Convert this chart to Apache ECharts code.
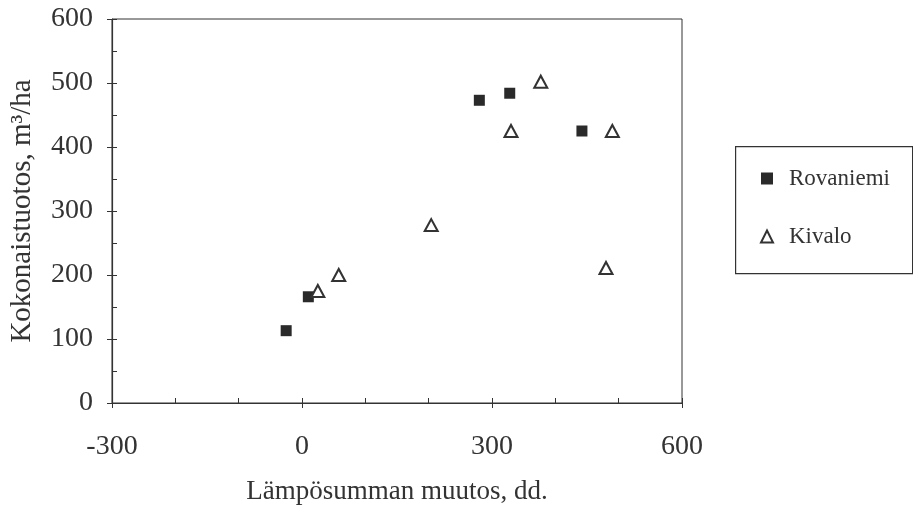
<!DOCTYPE html>
<html>
<head>
<meta charset="utf-8">
<script src="https://cdn.jsdelivr.net/npm/echarts@6/dist/echarts.min.js"></script>
<style>
html,body{margin:0;padding:0;background:#fff;}
#chart{width:913px;height:512px;}
</style>
</head>
<body>
<div id="chart"></div>
<script>
const seriesNames = ["Rovaniemi", "Kivalo"];
const rovaniemiX = [-25, 10, 280, 328, 442];
const rovaniemiY = [113, 166, 473, 484, 425];
const kivaloX = [25, 58, 204, 330, 377, 490, 480];
const kivaloY = [175, 200, 278, 425, 502, 425, 211];
const xTitle = "Lämpösumman muutos, dd.";
const yTitle = "Kokonaistuotos, m³/ha";
const xLabelStep = 300;
const yLabelStep = 100;

const FONT = '"Liberation Serif", "DejaVu Serif", serif';
const INK = '#333';

function pairs(xs, ys) { return xs.map((x, i) => [x, ys[i]]); }

const chart = echarts.init(document.getElementById('chart'));
chart.setOption({
  animation: false,
  backgroundColor: '#fff',
  grid: { left: 111, right: 231, top: 19, bottom: 109, show: true, borderColor: INK, borderWidth: 1, backgroundColor: 'transparent' },
  graphic: [
    { type: 'rect', left: 735, top: 146, shape: { width: 177, height: 127 },
      style: { fill: 'transparent', stroke: INK, lineWidth: 1.2 }, silent: true }
  ],
  xAxis: [
    {
      type: 'value', position: 'bottom', min: -300, max: 600, interval: 100,
      axisLine: { show: true, onZero: false, lineStyle: { color: INK, width: 1.2 } },
      axisTick: { show: true, inside: true, length: 5, lineStyle: { color: INK } },
      splitLine: { show: false },
      axisLabel: { margin: 30, color: INK, fontFamily: FONT, fontSize: 28,
        formatter: v => (v % xLabelStep === 0 ? String(v) : '') },
      name: xTitle, nameLocation: 'middle', nameGap: 75,
      nameTextStyle: { color: INK, fontFamily: FONT, fontSize: 27 }
    },
    {
      type: 'value', position: 'bottom', min: -300, max: 600, interval: 300,
      axisLine: { show: false, onZero: false },
      axisTick: { show: true, inside: false, length: 5, lineStyle: { color: INK } },
      axisLabel: { show: false }, splitLine: { show: false }
    }
  ],
  yAxis: [
    {
      type: 'value', position: 'left', min: 0, max: 600, interval: 50,
      axisLine: { show: true, onZero: false, lineStyle: { color: INK, width: 1.2 } },
      axisTick: { show: true, inside: true, length: 5, lineStyle: { color: INK } },
      splitLine: { show: false },
      axisLabel: { margin: 19, color: INK, fontFamily: FONT, fontSize: 28,
        formatter: v => (v % yLabelStep === 0 ? String(v) : '') },
      name: yTitle, nameLocation: 'middle', nameGap: 75, nameRotate: 90,
      nameTextStyle: { color: INK, fontFamily: FONT, fontSize: 29 }
    },
    {
      type: 'value', position: 'left', min: 0, max: 600, interval: 100,
      axisLine: { show: false, onZero: false },
      axisTick: { show: true, inside: false, length: 5, lineStyle: { color: INK } },
      axisLabel: { show: false }, splitLine: { show: false }
    }
  ],
  legend: {
    orient: 'vertical', left: 760, top: 167,
    padding: 0, itemGap: 35,
    itemWidth: 12, itemHeight: 12,
    textStyle: { color: INK, fontFamily: FONT, fontSize: 23, padding: [0, 0, 0, 11] },
    data: [
      { name: seriesNames[0], icon: 'rect' },
      { name: seriesNames[1], icon: 'triangle' }
    ]
  },
  series: [
    {
      name: seriesNames[0], type: 'scatter', xAxisIndex: 0, yAxisIndex: 0,
      symbol: 'rect', symbolSize: 11,
      itemStyle: { color: '#2a2a2a', opacity: 1 },
      data: pairs(rovaniemiX, rovaniemiY)
    },
    {
      name: seriesNames[1], type: 'scatter', xAxisIndex: 0, yAxisIndex: 0,
      symbol: 'triangle', symbolSize: [13, 12],
      itemStyle: { color: '#fff', borderColor: INK, borderWidth: 2, opacity: 1 },
      data: pairs(kivaloX, kivaloY)
    }
  ]
});
</script>
</body>
</html>
